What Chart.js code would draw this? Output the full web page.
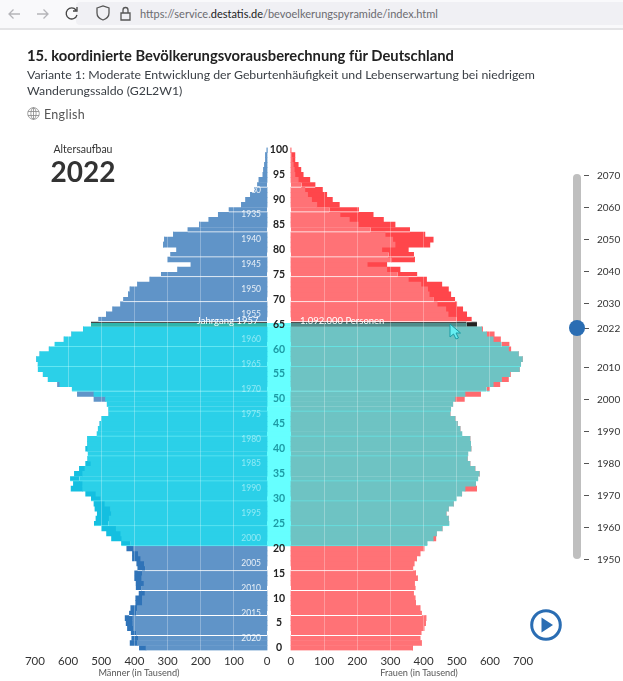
<!DOCTYPE html>
<html lang="de">
<head>
<meta charset="UTF-8" />
<title>Bevölkerungspyramide</title>
<script src="https://cdn.jsdelivr.net/npm/chart.js"></script>
<style>
  html, body { margin: 0; padding: 0; background: #fff; }
  body { position: relative; width: 623px; height: 681px; overflow: hidden; font-family: Lato, sans-serif; color: #333; }
  canvas { position: absolute; left: 0; top: 0; }
  .abs { position: absolute; white-space: nowrap; }
  #bar { left: 0; top: 0; width: 623px; height: 28px; background: #f9f9fb; border-bottom: 2px solid #e4e4e6; }
  #pill { left: 76px; top: 2px; width: 547px; height: 23px; background: #f0f0f4; border-radius: 4px 0 0 4px; }
  #url { left: 140px; top: 7px; font-size: 11px; color: #6b6b70; }
  #url b { font-weight: 400; color: #222; }
  h1 { left: 27px; top: 46px; margin: 0; font-size: 14.75px; font-weight: 700; color: #222; }
  #sub { left: 27px; top: 67px; font-size: 12.3px; line-height: 15.5px; color: #3a3f45; }
  #lang { left: 44px; top: 107px; font-size: 12.5px; letter-spacing: .3px; color: #555; }
  #alter { left: 23px; width: 120px; text-align: center; top: 143px; font-size: 10.5px; color: #333; }
  #year { left: 23px; width: 120px; text-align: center; top: 152px; font-size: 28px; font-weight: 700; line-height: 38px; color: #333; }
  .axt { top: 667px; font-size: 9.2px; color: #555; transform: translateX(-50%); }
  #track { left: 573px; top: 174px; width: 8px; height: 385px; border-radius: 4px; background: #bfbfbf; }
  #knob { left: 569px; top: 320px; width: 16px; height: 16px; border-radius: 50%; background: #2a6db3; }
  .tick { left: 584px; width: 5px; height: 1px; background: #555; }
  .ty { left: 597px; font-size: 10px; color: #333; transform: translateY(-50%); }
</style>
</head>
<body>
<canvas id="pyramid" width="623" height="681"></canvas>

<div class="abs" id="bar"></div>
<div class="abs" id="pill"></div>
<svg class="abs" style="left:0;top:0" width="140" height="28" fill="none" stroke="#b5b5b9" stroke-width="1.3">
  <path d="M20 14h-11m4.5-4.5L9 14l4.5 4.5" />
  <path d="M37 14h11m-4.5-4.5L48 14l-4.5 4.5" />
  <path stroke="#444" d="M76 10a5.5 5.5 0 1 0 1 5M77 7v4h-4" />
  <path stroke="#555" d="M97 8l6-2 6 2v5c0 4-3 6-6 7-3-1-6-3-6-7z" />
  <path stroke="#555" d="M121 13h9v7h-9zM123 13v-3a2.5 2.5 0 0 1 5 0v3" />
</svg>
<div class="abs" id="url">https://service.<b>destatis.de</b>/bevoelkerungspyramide/index.html</div>

<h1 class="abs">15. koordinierte Bevölkerungsvorausberechnung für Deutschland</h1>
<div class="abs" id="sub">Variante 1: Moderate Entwicklung der Geburtenhäufigkeit und Lebenserwartung bei niedrigem<br>Wanderungssaldo (G2L2W1)</div>
<svg class="abs" style="left:27px;top:107px" width="13" height="13" fill="none" stroke="#888" stroke-width=".8">
  <circle cx="6.5" cy="6.5" r="5.8" /><ellipse cx="6.5" cy="6.5" rx="2.6" ry="5.8" /><path d="M1 4.5h11M1 8.5h11M6.5 .7v11.6" />
</svg>
<div class="abs" id="lang">English</div>
<div class="abs" id="alter">Altersaufbau</div>
<div class="abs" id="year">2022</div>

<div class="abs axt" style="left:139px">Männer (in Tausend)</div>
<div class="abs axt" style="left:419px">Frauen (in Tausend)</div>

<div class="abs" id="track"></div>
<div id="slider"></div>
<div class="abs" id="knob"></div>

<svg class="abs" style="left:528px;top:607px" width="36" height="36">
  <circle cx="18" cy="18" r="14.3" fill="#fff" stroke="#2a6db3" stroke-width="3" />
  <path d="M13.5 10.5L25 18l-11.5 7.5z" fill="#2a6db3" />
</svg>
<svg class="abs" style="left:448px;top:322px" width="16" height="20">
  <path d="M2 2v13l3.5-3 2.5 5 2.5-1-2.5-5h4.5z" fill="#66eef2" stroke="#1b9aa3" stroke-width="1" />
</svg>

<script>
// index = age 0..100, values in thousands
const ages = Array.from({ length: 101 }, (_, i) => i);

const menTotal = [385,413,408,411,421,425,428,416,411,396, 396,386,396,395,400,400,391,393,406,406,
  423,440,469,484,499,522,516,512,519,522, 531,547,591,584,594,581,566,547,541,541,
  547,541,541,514,509,504,499,477,479,482, 522,572,589,632,660,675,690,692,695,685,
  657,641,612,589,554,531,509,484,465,441, 434,418,413,390,353,320,269,229,299,292,
  272,312,309,282,240,204,175,147,116,77, 64,50,37,30,24,12,10,7,4,4, 0];
const menCore = [365,391,388,393,403,405,405,395,391,376, 376,368,378,371,378,376,368,370,381,388,
  403,413,438,441,455,479,476,469,472,489, 501,516,556,556,566,556,549,531,539,541,
  541,541,541,514,509,504,499,477,479,482, 487,522,589,625,660,675,690,692,695,685,
  657,641,612,589,554,531,509,484,465,441, 434,418,413,390,353,320,269,229,299,292,
  272,312,309,282,240,204,175,147,116,77, 64,50,37,30,24,12,10,7,4,4, 0];
const womenTotal = [367,393,389,394,401,406,407,395,389,376, 374,369,376,372,381,376,369,371,379,389,
  401,412,437,439,456,478,475,468,475,490, 500,515,560,557,565,568,555,540,532,535,
  543,542,540,517,510,502,495,480,483,488, 523,572,600,630,656,662,689,694,698,686,
  663,659,632,613,578,561,545,530,518,500, 495,482,475,455,409,381,329,289,373,371,
  354,419,429,404,359,314,279,248,205,146, 125,108,95,74,57,37,30,22,12,12, 0];
const womenCore = [367,393,389,394,401,406,407,395,389,376, 374,369,376,372,381,376,369,371,379,389,
  401,412,429,439,456,478,475,468,475,490, 500,515,525,557,565,568,555,540,532,535,
  543,542,540,517,510,502,495,480,483,488, 495,525,590,610,635,660,689,694,698,686,
  656,635,610,590,575,530,500,474,467,441, 431,417,412,392,354,322,289,230,304,294,
  274,314,307,284,240,203,176,148,116,78, 62,50,42,32,22,12,10,7,4,2, 0];

const ageTicks = [0,5,10,15,20,25,30,35,40,45,50,55,60,65,70,75,80,85,90,95,100];
const valueTicks = [0,100,200,300,400,500,600,700];
const cohortYears = [1930,1935,1940,1945,1950,1955,1960,1965,1970,1975,1980,1985,1990,1995,2000,2005,2010,2015,2020];
const separators = [3,7,12,16,21,25,30,34,39,43,48,52,57,61,66,70,75,79,84,88,93]; // bar with a white line under it
const sliderYears = [2070,2060,2050,2040,2030,2022,2010,2000,1990,1980,1970,1960,1950];
const shownYear = 2022;
const workingFrom = 21, workingTo = 65, hoverAge = 65;
const gap = 36; // half of the empty middle column, in axis units

const inWork = a => a >= workingFrom && a <= workingTo;

const menCoreColor = a => a === hoverAge ? "#2fb5ad" : inWork(a) ? "#2bd0e8" : "#6094c8";
const menTipColor = a => a === hoverAge ? "#2fb5ad" : !inWork(a) ? "#2f73b8" : a >= 45 ? "#6094c8" : "#14bfe0";
const womenCoreColor = a => a === hoverAge ? "#4f8d8b" : inWork(a) ? "#6ec3c3" : "#ff7276";
const womenTipColor = a => a === hoverAge ? "#222" : inWork(a) ? "#ff6a6e" : "#ff464b";

const lineColor = (a, left) => a === hoverAge ? "#444" : inWork(a) ? (left ? "#62e6f2" : "#66e2e2") : "#fff";
const edgeWidth = ctx => {
  const a = ctx.dataIndex;
  if (a === hoverAge) return { top: 1.4, right: 0, bottom: 0, left: 0 };
  return { top: 0, right: 0, bottom: separators.includes(a) ? 1 : 0, left: 0 };
};

function barSet(from, to, fill, left) {
  return {
    data: ages.map(a => left ? [-gap - to[a], -gap - from[a]] : [gap + from[a], gap + to[a]]),
    backgroundColor: ctx => fill(ctx.dataIndex),
    borderColor: ctx => lineColor(ctx.dataIndex, left),
    borderWidth: edgeWidth,
    borderSkipped: false,
    grouped: false,
    barPercentage: 1,
    categoryPercentage: 1
  };
}

const zeros = ages.map(() => 0);
const middle = {
  data: ages.map(a => inWork(a) ? [-gap, gap] : null),
  backgroundColor: "#66ffff",
  borderColor: "#fff",
  borderWidth: ctx => ({ top: ctx.dataIndex === hoverAge ? 1.4 : 0, right: 0, bottom: 0, left: 0 }),
  borderSkipped: false,
  grouped: false,
  barPercentage: 1,
  categoryPercentage: 1
};

const pyramidText = {
  id: "pyramidText",
  afterDatasetsDraw(chart) {
    const c = chart.ctx, y = chart.scales.y, x = chart.scales.x;
    const ageY = a => y.getPixelForValue(a);
    c.save();
    c.textBaseline = "middle";

    c.textAlign = "center";
    c.font = "8.5px Lato";
    cohortYears.forEach(year => {
      const a = shownYear - year;
      c.fillStyle = inWork(a) ? "rgba(225,255,255,.55)" : "rgba(255,255,255,.85)";
      c.fillText(year, x.getPixelForValue(-gap - 48), ageY(a));
    });

    c.font = "bold 10.5px Lato";
    ageTicks.forEach(a => {
      c.fillStyle = a === hoverAge ? "#222" : inWork(a) ? "#1d9aa4" : "#222";
      c.fillText(a, x.getPixelForValue(0), ageY(a));
    });

    c.font = "9.5px Lato";
    c.fillStyle = "#fff";
    c.textAlign = "right";
    c.fillText("Jahrgang " + (shownYear - hoverAge), x.getPixelForValue(-gap - 26), ageY(hoverAge) - 3);
    c.textAlign = "left";
    c.fillText("1.092.000 Personen", x.getPixelForValue(gap + 27), ageY(hoverAge) - 3);
    c.restore();
  }
};

new Chart(document.getElementById("pyramid"), {
  type: "bar",
  plugins: [pyramidText],
  data: {
    labels: ages,
    datasets: [
      barSet(zeros, menCore, menCoreColor, true),
      barSet(menCore, menTotal, menTipColor, true),
      barSet(zeros, womenCore, womenCoreColor, false),
      barSet(womenCore, womenTotal, womenTipColor, false),
      middle
    ]
  },
  options: {
    indexAxis: "y",
    responsive: false,
    animation: false,
    events: [],
    layout: { padding: { left: 22, right: 87, top: 147.5, bottom: 0 } },
    plugins: { legend: { display: false }, tooltip: { enabled: false } },
    scales: {
      y: { type: "category", reverse: true, display: false },
      x: {
        type: "linear",
        min: -775,
        max: 775,
        afterBuildTicks(scale) {
          const side = valueTicks.map(v => v + gap);
          scale.ticks = side.map(v => ({ value: -v })).reverse().concat(side.map(v => ({ value: v })));
        },
        afterFit(scale) { scale.height = 30.5; },
        border: { display: false },
        grid: {
          z: 1,
          drawTicks: false,
          color: ctx => Math.abs(ctx.tick.value) === gap ? "transparent" : "rgba(255,255,255,.28)"
        },
        ticks: {
          autoSkip: false,
          maxRotation: 0,
          padding: 4,
          color: "#333",
          font: { family: "Lato", size: 11.5 },
          callback: v => Math.abs(v) - gap
        }
      }
    }
  }
});

// year slider on the right
const slider = document.getElementById("slider");
sliderYears.forEach(year => {
  const top = 174.5 + (2070 - year) * 3.2;
  slider.insertAdjacentHTML("beforeend",
    `<div class="abs tick" style="top:${top}px"></div><div class="abs ty" style="top:${top}px">${year}</div>`);
});
</script>
</body>
</html>
